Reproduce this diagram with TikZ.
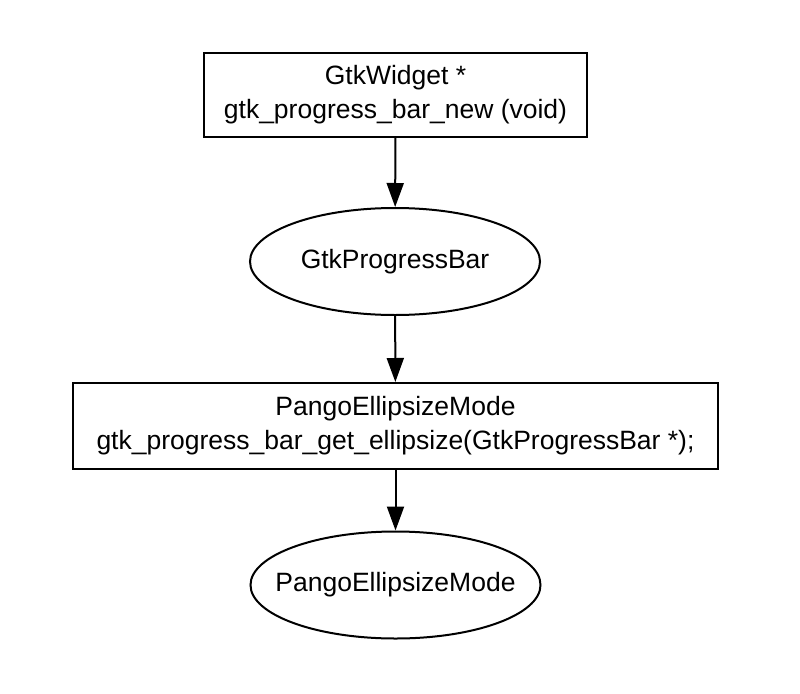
\documentclass[tikz,border=0pt]{standalone}
\usepackage{fontspec}
\setmainfont{Liberation Sans}
\usetikzlibrary{shapes.geometric,arrows.meta}
\begin{document}
\begin{tikzpicture}[x=1pt,y=-1pt,
  every node/.style={font=\fontsize{26.5}{34}\selectfont, align=center, line width=2pt, draw=black},
  boxnode/.style={rectangle, inner sep=0pt},
  ellnode/.style={ellipse, inner sep=0pt},
  conn/.style={line width=2pt, -{Triangle[length=24pt,width=17pt]}}]
\useasboundingbox (0,0) rectangle (800,693);
\node[boxnode, minimum width=383pt, minimum height=84pt] (a) at (395.5,95) {GtkWidget *\\gtk\_progress\_bar\_new (void)};
\node[ellnode, minimum width=290pt, minimum height=107pt] (b) at (395,261.5) {\makebox[0pt]{GtkProgressBar}};
\node[boxnode, minimum width=645pt, minimum height=86pt] (c) at (395.5,426) {PangoEllipsizeMode\\gtk\_progress\_bar\_get\_ellipsize(GtkProgressBar *);};
\node[ellnode, minimum width=290pt, minimum height=107pt] (d) at (395.5,585) {\makebox[0pt]{PangoEllipsizeMode}};
\draw[conn] (a) -- (b);
\draw[conn] (b) -- (c);
\draw[conn] (c) -- (d);
\end{tikzpicture}
\end{document}
